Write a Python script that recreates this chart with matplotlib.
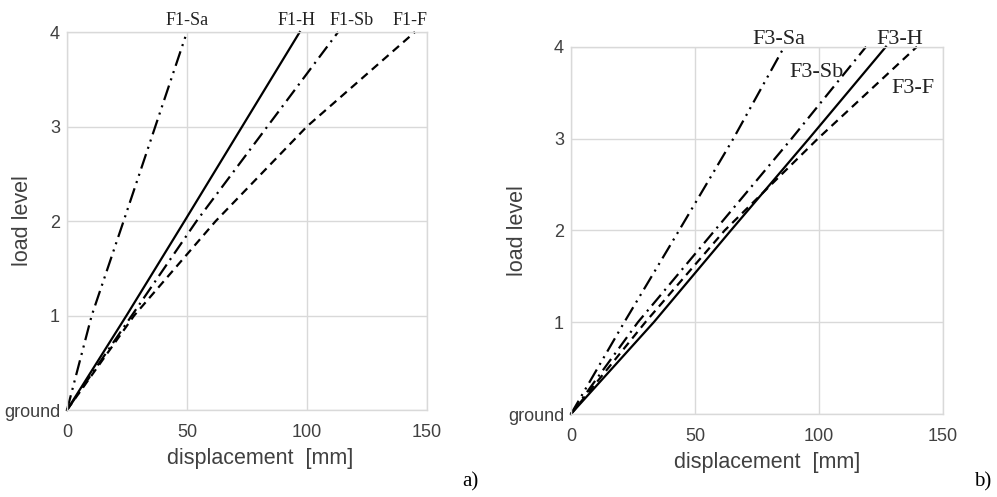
import matplotlib
matplotlib.use('Agg')
import matplotlib.pyplot as plt

plt.rcParams['font.family'] = ['Liberation Sans', 'DejaVu Sans']
plt.rcParams['lines.scale_dashes'] = False

# load levels (0 = ground)
levels = [0, 1, 2, 3, 4]
ytick_labels = ['ground', '1', '2', '3', '4']
xticks = [0, 50, 100, 150]

# panel a) displacements [mm]
f1_sa = [0, 10.3, 23.6, 36.8, 50]
f1_h = [0, 24.8, 49, 73, 97]
f1_sb = [0, 27, 54, 83.5, 113]
f1_f = [0, 28, 62, 100, 145]

# panel b) displacements [mm]
f3_sa = [0, 21.5, 43.6, 65.5, 86]
f3_h = [0, 33.4, 64.5, 96, 127]
f3_sb = [0, 27, 58, 89, 119]
f3_f = [0, 30, 62, 99.6, 139.5]

# line styles per case
styles = {
	'Sa': dict(dashes=(11, 4, 1.5, 4, 1.5, 4)),
	'H': dict(linestyle='-'),
	'Sb': dict(dashes=(10, 4, 1.5, 4)),
	'F': dict(dashes=(6, 4)),
}

grid_col = '#d9d9d9'
txt_col = '#404040'

fig = plt.figure(figsize=(9.97, 4.97), dpi=100)
ax1 = fig.add_axes([0.0672, 0.175, 0.361, 0.7606])
ax2 = fig.add_axes([0.5727, 0.167, 0.3731, 0.739])


def setup(ax, xlab_pos, ylab_pos):
	ax.set_xlim(0, 150)
	ax.set_ylim(0, 4)
	ax.set_xticks(xticks)
	ax.set_yticks(levels)
	ax.set_yticklabels(ytick_labels)
	ax.grid(True, color=grid_col, lw=1)
	ax.set_axisbelow(True)
	for s in ax.spines.values():
		s.set_color(grid_col)
		s.set_linewidth(1)
	ax.tick_params(length=0, labelsize=13, labelcolor=txt_col)
	ax.tick_params(axis='x', pad=10)
	ax.tick_params(axis='y', pad=5)
	ax.set_xlabel('displacement  [mm]', fontsize=15.5, color=txt_col, va='center')
	ax.set_ylabel('load level', fontsize=15.5, color=txt_col, va='center')
	ax.xaxis.set_label_coords(*xlab_pos)
	ax.yaxis.set_label_coords(*ylab_pos)


setup(ax1, (0.536, -0.127), (-0.125, 0.5))
setup(ax2, (0.528, -0.131), (-0.145, 0.5))

for name, xs in [('Sa', f1_sa), ('H', f1_h), ('Sb', f1_sb), ('F', f1_f)]:
	ax1.plot(xs, levels, color='black', lw=1.6, clip_on=False, **styles[name])
for name, xs in [('Sa', f3_sa), ('H', f3_h), ('Sb', f3_sb), ('F', f3_f)]:
	ax2.plot(xs, levels, color='black', lw=1.6, clip_on=False, **styles[name])

serif = ['Liberation Serif', 'DejaVu Serif']
for txt, x in [('F1-Sa', 50), ('F1-H', 95.7), ('F1-Sb', 118.6), ('F1-F', 143)]:
	ax1.text(x, 4.12, txt, family=serif, fontsize=13, ha='center', va='center', color='#222222')
for txt, x, y in [('F3-Sa', 84, 4.08), ('F3-H', 132.7, 4.08), ('F3-Sb', 99, 3.72), ('F3-F', 138, 3.54)]:
	ax2.text(x, y, txt, family=serif, fontsize=16, ha='center', va='center', color='#222222')

fig.text(470 / 997, 1 - 482 / 497, 'a)', family=serif, fontsize=15, ha='center', va='center')
fig.text(983 / 997, 1 - 482 / 497, 'b)', family=serif, fontsize=15, ha='center', va='center')

fig.savefig('out.png', dpi=100, facecolor='white')
